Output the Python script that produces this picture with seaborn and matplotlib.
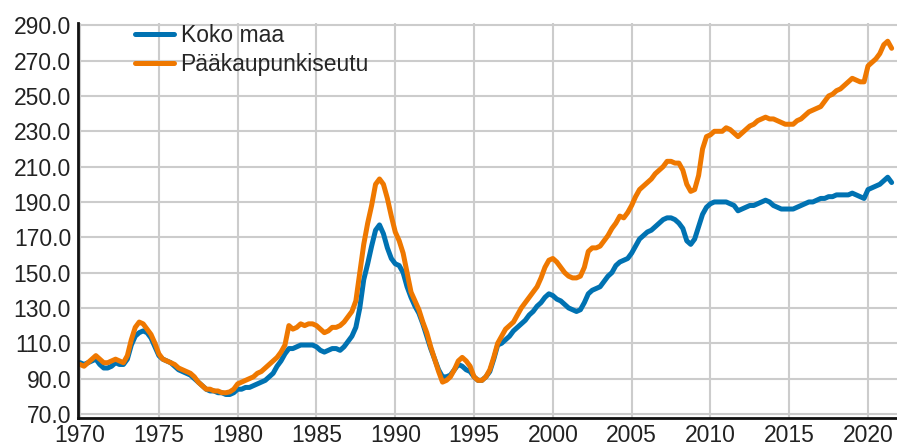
import numpy as np
import pandas as pd
import seaborn as sns
import matplotlib.pyplot as plt

# Quarterly index values, 1970Q1 .. 2021Q3
start_year = 1970
koko_maa = [
    99, 98, 99, 100,   101, 98, 96, 96,   97, 99, 98, 98,   101, 109, 114, 116,
    117, 116, 113, 108,   103, 101, 100, 99,   97, 95, 94, 93,   92, 90, 88, 86,
    84, 83, 83, 82,   82, 81, 81, 82,   84, 84, 85, 85,   86, 87, 88, 89,
    91, 93, 97, 100,   104, 107, 107, 108,   109, 109, 109, 109,   108, 106, 105, 106,
    107, 107, 106, 108,   111, 114, 119, 130,   146, 155, 165, 174,   177, 172, 164, 158,
    155, 154, 150, 142,   136, 131, 127, 121,   114, 107, 101, 95,   91, 91, 92, 95,
    98, 97, 95, 94,   91, 89, 89, 91,   94, 101, 109, 110,   112, 114, 117, 119,
    121, 123, 126, 128,   131, 133, 136, 138,   137, 135, 134, 132,   130, 129, 128, 129,
    133, 138, 140, 141,   142, 145, 148, 150,   154, 156, 157, 158,   161, 165, 169, 171,
    173, 174, 176, 178,   180, 181, 181, 180,   178, 175, 168, 166,   169, 176, 183, 187,
    189, 190, 190, 190,   190, 189, 188, 185,   186, 187, 188, 188,   189, 190, 191, 190,
    188, 187, 186, 186,   186, 186, 187, 188,   189, 190, 190, 191,   192, 192, 193, 193,
    194, 194, 194, 194,   195, 194, 193, 192,   197, 198, 199, 200,   202, 204, 201,
]
paakaupunkiseutu = [
    98, 97, 99, 101,   103, 101, 99, 99,   100, 101, 100, 99,   103, 112, 119, 122,
    121, 118, 115, 110,   104, 101, 100, 99,   98, 96, 95, 94,   93, 91, 88, 86,
    84, 84, 83, 83,   82, 82, 82.5, 84,   87, 88, 89, 90,   91, 93, 94, 96,
    98, 100, 102, 105,   109, 120, 118, 119,   121, 120, 121, 121,   120, 118, 116, 117,
    119, 119, 120, 122,   125, 128, 134, 150,   166, 178, 188, 200,   203, 200, 192, 182,
    173, 168, 161, 150,   139, 134, 129, 122,   116, 108, 101, 94,   88, 89, 91, 95,
    100, 102, 100, 97,   91, 89, 89, 91,   95, 102, 110, 114,   118, 120, 122, 126,
    130, 133, 136, 139,   142, 147, 153, 157,   158, 156, 153, 150,   148, 147, 147, 148,
    153, 162, 164, 164,   165, 168, 171, 175,   178, 182, 181, 184,   188, 193, 197, 199,
    201, 203, 206, 208,   210, 213, 213, 212,   212, 208, 200, 196,   197, 205, 220, 227,
    228, 230, 230, 230,   232, 231, 229, 227,   229, 231, 233, 234,   236, 237, 238, 237,
    237, 236, 235, 234,   234, 234, 236, 237,   239, 241, 242, 243,   244, 247, 250, 251,
    253, 254, 256, 258,   260, 259, 258, 258,   267, 269, 271, 274,   279, 281, 277,
]
series_names = ['Koko maa', 'Pääkaupunkiseutu']
series_colors = ['#0072b2', '#ef7800']
x_ticks = [1970, 1975, 1980, 1985, 1990, 1995, 2000, 2005, 2010, 2015, 2020]
y_ticks = [70, 90, 110, 130, 150, 170, 190, 210, 230, 250, 270, 290]

time = start_year + np.arange(len(koko_maa)) * 0.25
df = pd.concat([
    pd.DataFrame({'time': time, 'value': koko_maa, 'series': series_names[0]}),
    pd.DataFrame({'time': time, 'value': paakaupunkiseutu, 'series': series_names[1]}),
])

sns.set_theme(style='whitegrid')
plt.rcParams['font.family'] = ['Liberation Sans', 'DejaVu Sans']

fig = plt.figure(figsize=(8.97, 4.48), dpi=100)
ax = fig.add_axes([0.087, 0.067, 0.913, 0.882])

sns.lineplot(data=df, x='time', y='value', hue='series',
             palette=dict(zip(series_names, series_colors)),
             linewidth=3.6, ax=ax)

ax.set_xlim(1969.87, 2021.84)
ax.set_ylim(67.7, 291.4)
ax.set_xticks(x_ticks)
ax.set_yticks(y_ticks)
ax.set_yticklabels([f'{v:.1f}' for v in y_ticks])
ax.set_xlabel('')
ax.set_ylabel('')
ax.tick_params(axis='both', length=0, labelsize=16.5, colors='#222222')
ax.tick_params(axis='y', pad=5)
ax.tick_params(axis='x', pad=4)
ax.grid(True, color='#cccccc', linewidth=1.5)

for side in ['top', 'right']:
    ax.spines[side].set_visible(False)
for side in ['left', 'bottom']:
    ax.spines[side].set_color('#111111')
    ax.spines[side].set_linewidth(2)

handles, labels = ax.get_legend_handles_labels()
ax.legend(handles, labels, loc='upper left', bbox_to_anchor=(0.058, 1.02),
          frameon=False, fontsize=16.5, handlelength=1.7, handletextpad=0.3,
          labelspacing=0.25, borderaxespad=0.0)

fig.savefig('out.png', dpi=100)
